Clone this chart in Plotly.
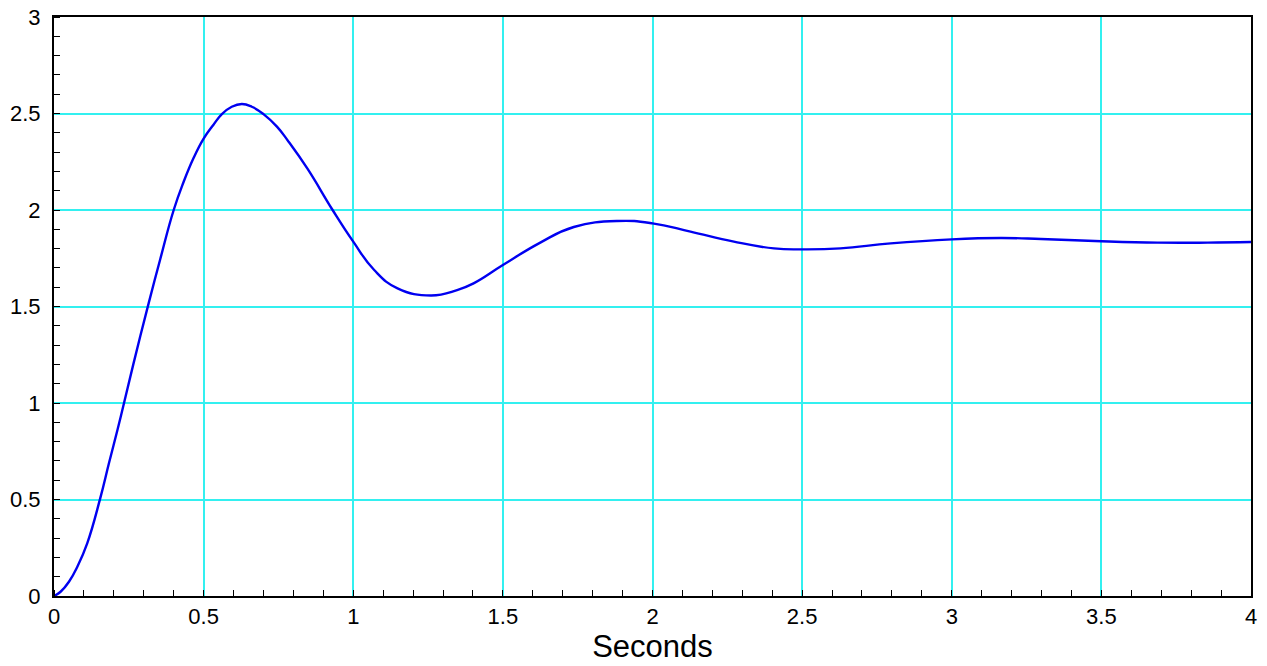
import plotly.graph_objects as go

# Values
t_seconds = [0.0, 0.022, 0.05, 0.078, 0.111, 0.154, 0.184, 0.212, 0.234, 0.265,
             0.316, 0.355, 0.4, 0.433, 0.466, 0.5, 0.533, 0.561, 0.594, 0.628,
             0.661, 0.7, 0.745, 0.784, 0.847, 0.931, 1.0, 1.07, 1.148, 1.26,
             1.347, 1.402, 1.5, 1.625, 1.737, 1.882, 2.0, 2.127, 2.272, 2.406,
             2.5, 2.628, 2.796, 3.0, 3.164, 3.298, 3.5, 3.688, 3.855, 4.0]
response = [0.0, 0.022, 0.074, 0.152, 0.273, 0.503, 0.69, 0.86, 1.0, 1.2,
            1.515, 1.745, 2.0, 2.145, 2.268, 2.37, 2.442, 2.497, 2.535, 2.549,
            2.535, 2.497, 2.432, 2.354, 2.214, 2.0, 1.836, 1.689, 1.594, 1.557,
            1.585, 1.620, 1.715, 1.831, 1.912, 1.943, 1.931, 1.888, 1.836, 1.801,
            1.796, 1.801, 1.827, 1.848, 1.855, 1.850, 1.838, 1.831, 1.831, 1.834]

x_ticks = [0, 0.5, 1, 1.5, 2, 2.5, 3, 3.5, 4]
x_tick_labels = ["0", "0.5", "1", "1.5", "2", "2.5", "3", "3.5", "4"]
y_ticks = [0, 0.5, 1, 1.5, 2, 2.5, 3]
y_tick_labels = ["0", "0.5", "1", "1.5", "2", "2.5", "3"]

fig = go.Figure()
fig.add_trace(go.Scatter(
    x=t_seconds, y=response, mode="lines",
    line=dict(color="#0000F0", width=2.4, shape="spline", smoothing=1.3),
    showlegend=False, hoverinfo="skip",
))

font_family = "Liberation Sans, Arial, sans-serif"
axis_common = dict(
    showline=True, linecolor="black", linewidth=2, mirror=True,
    showgrid=True, gridcolor="#33F0F0", gridwidth=1.5,
    zeroline=False, ticks="", automargin=False,
    ticklabeloverflow="allow",
    tickfont=dict(family=font_family, size=22, color="black"),
)

fig.update_xaxes(
    range=[0, 4], tickmode="array", tickvals=x_ticks, ticktext=x_tick_labels,
    minor=dict(ticks="inside", dtick=0.1, tick0=0, ticklen=6, tickcolor="black",
               tickwidth=1.2, showgrid=False),
    title=dict(text="Seconds", font=dict(family=font_family, size=31, color="black"),
               standoff=0),
    ticklabelstandoff=0,
    **axis_common,
)
fig.update_yaxes(
    range=[0, 3], tickmode="array", tickvals=y_ticks, ticktext=y_tick_labels,
    minor=dict(ticks="inside", dtick=0.1, tick0=0, ticklen=6, tickcolor="black",
               tickwidth=1.2, showgrid=False),
    ticklabelstandoff=7,
    **axis_common,
)

fig.update_layout(
    width=1267, height=666,
    margin=dict(l=54, r=16, t=17, b=70),
    plot_bgcolor="white", paper_bgcolor="white",
)

# remove the browser's default 8px body margin so the figure sits at the page corner
fig.write_html("out.html",
               config={"displayModeBar": False},
               post_script="document.body.style.margin='0';document.body.style.overflow='hidden';")
